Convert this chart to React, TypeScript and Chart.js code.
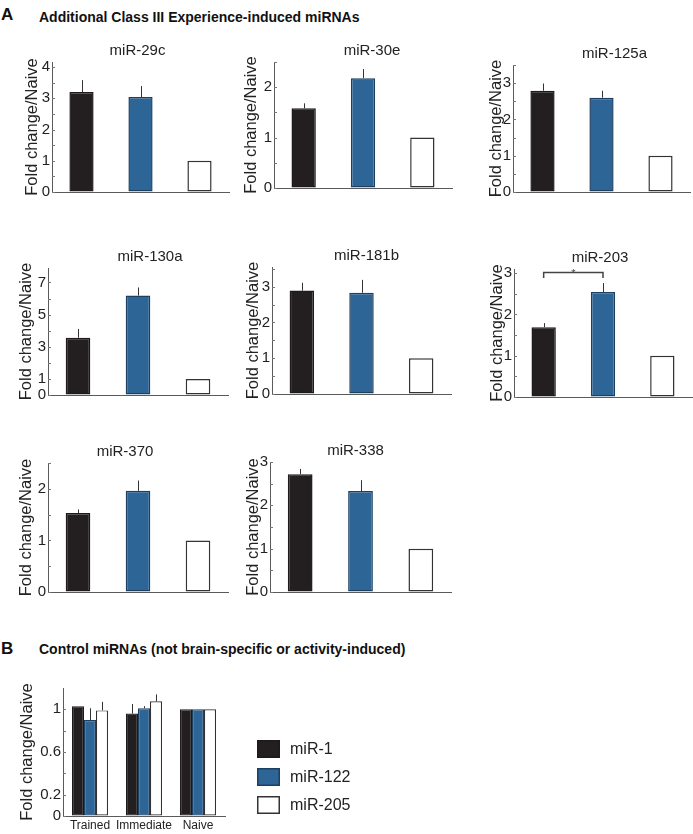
import React, { useEffect, useRef } from 'react';
import { Chart, registerables } from 'chart.js';

Chart.register(...registerables);

const FONT = '"Liberation Sans", Arial, Helvetica, sans-serif';

// ---------- Panel A data ----------
const groupLabels = ['Trained', 'Immediate', 'Naive'];
const mirNames = ['miR-29c', 'miR-30e', 'miR-125a', 'miR-130a', 'miR-181b', 'miR-203', 'miR-370', 'miR-338'];
const trainedValues = [3.2, 1.58, 2.79, 3.56, 2.89, 1.69, 1.53, 2.72];
const trainedErrors = [0.38, 0.1, 0.2, 0.55, 0.22, 0.1, 0.07, 0.12];
const immediateValues = [3.04, 2.18, 2.6, 6.19, 2.83, 2.54, 1.96, 2.33];
const immediateErrors = [0.35, 0.18, 0.19, 0.5, 0.36, 0.22, 0.2, 0.25];
const naiveValues = [1, 1, 1, 1, 1, 1, 1, 1];
const naiveErrors = [0, 0, 0, 0, 0, 0, 0, 0];
const yMaxValues = [4.16, 2.5, 3.5, 7.9, 3.55, 3.1, 2.5, 3.0];
const yTickLabels = [[0, 1, 2, 3, 4], [0, 1, 2], [0, 1, 2, 3], [0, 1, 3, 5, 7], [0, 1, 2, 3], [0, 1, 2, 3], [0, 1, 2], [0, 1, 2, 3]];
const yMinorSteps = [0.5, 0.5, 0.5, 1, 0.5, 0.5, 0.5, 0.5];
// significance bracket: [bar a, bar b, level, drop level]
const significance: (number[] | null)[] = [null, null, null, null, null, [0, 1, 3.03, 2.88], null, null];

// ---------- Panel B data ----------
const controlGroups = ['Trained', 'Immediate', 'Naive'];
const controlSeries = ['miR-1', 'miR-122', 'miR-205'];
const mir1Values = [1.03, 0.96, 1.0];
const mir1Errors = [0, 0.09, 0];
const mir122Values = [0.9, 1.01, 1.0];
const mir122Errors = [0.11, 0.02, 0];
const mir205Values = [0.99, 1.075, 1.0];
const mir205Errors = [0.08, 0.065, 0];
const controlMax = 1.2;
const controlTickLabels = [0, 0.2, 0.6, 1];
const controlMinorStep = 0.2;

// ---------- styles ----------
const barColors = ['#231f20', '#2e6597', '#ffffff'];
const barBorders = ['#1e1a1b', '#1d3f60', '#333333'];
const TEXT = '#222';
const AXIS = '#5a5a5a';

// chart-area boxes (page pixels) + label offset + title dx
const panelBoxes = [
  { l: 52, t: 62, r: 229, b: 192, lab: 20, tdx: -3 },
  { l: 274, t: 62, r: 452, b: 188, lab: 23, tdx: 9 },
  { l: 513, t: 65, r: 690, b: 192, lab: 17, tdx: 13 },
  { l: 48, t: 268, r: 228, b: 395, lab: 22, tdx: 12 },
  { l: 272, t: 267, r: 451, b: 394, lab: 19, tdx: 5 },
  { l: 514, t: 269, r: 692, b: 397, lab: 17, tdx: -3 },
  { l: 48, t: 463, r: 228, b: 592, lab: 22, tdx: -13 },
  { l: 270, t: 462, r: 451, b: 592, lab: 17, tdx: -5 },
];

function buildTicks(max: number, step: number) {
  const out: { value: number }[] = [];
  for (let i = 0; i * step <= max + 1e-9; i++) out.push({ value: Math.round(i * step * 1000) / 1000 });
  return out;
}

function MiniChart({ k }: { k: number }) {
  const ref = useRef<HTMLCanvasElement>(null);
  const box = panelBoxes[k];
  const PL = 55, PT = 28, PR = 4, PB = 14;
  const W = box.r - box.l + PL + PR;
  const H = box.b - box.t + PT + PB;
  useEffect(() => {
    const values = [trainedValues[k], immediateValues[k], naiveValues[k]];
    const errors = [trainedErrors[k], immediateErrors[k], naiveErrors[k]];
    const yw = box.lab + 9.9;
    const labels = yTickLabels[k];
    const sig = significance[k];
    const plugin = {
      id: 'annot' + k,
      afterDatasetsDraw(chart: any) {
        const ctx = chart.ctx;
        const ys = chart.scales.y;
        const ca = chart.chartArea;
        const meta = chart.getDatasetMeta(0);
        ctx.save();
        // error bars
        ctx.strokeStyle = '#333';
        ctx.lineWidth = 1;
        meta.data.forEach((bar: any, j: number) => {
          const e = errors[j];
          if (!e) return;
          const x = Math.round(bar.x) + 0.5;
          ctx.beginPath();
          ctx.moveTo(x, bar.y);
          ctx.lineTo(x, ys.getPixelForValue(values[j] + e));
          ctx.stroke();
        });
        // inner tick marks
        ctx.strokeStyle = '#777';
        ys.ticks.forEach((t: any) => {
          const y = Math.round(ys.getPixelForValue(t.value)) + 0.5;
          ctx.beginPath();
          ctx.moveTo(ca.left, y);
          ctx.lineTo(ca.left + 3, y);
          ctx.stroke();
        });
        // title
        ctx.fillStyle = TEXT;
        ctx.font = `15px ${FONT}`;
        ctx.textAlign = 'center';
        ctx.textBaseline = 'middle';
        ctx.fillText(mirNames[k], (ca.left + ca.right) / 2 + box.tdx, ca.top - 11);
        // significance bracket
        if (sig) {
          const x1 = meta.data[sig[0]].x;
          const x2 = meta.data[sig[1]].x;
          const y1 = Math.round(ys.getPixelForValue(sig[2])) + 0.5;
          const y2 = ys.getPixelForValue(sig[3]);
          ctx.strokeStyle = '#444';
          ctx.lineWidth = 1.5;
          ctx.beginPath();
          ctx.moveTo(x1, y2);
          ctx.lineTo(x1, y1);
          ctx.lineTo(x2, y1);
          ctx.lineTo(x2, y2);
          ctx.stroke();
          ctx.font = `11px ${FONT}`;
          ctx.fillStyle = '#444';
          ctx.textBaseline = 'alphabetic';
          ctx.fillText('*', (x1 + x2) / 2, y1 + 4);
        }
        ctx.restore();
      },
    };
    const chart = new Chart(ref.current!, {
      type: 'bar',
      data: {
        labels: groupLabels,
        datasets: [
          {
            data: values,
            backgroundColor: barColors,
            borderColor: barBorders,
            borderWidth: 1.5,
            borderSkipped: false,
            barPercentage: 0.41,
            categoryPercentage: 1,
          },
        ],
      },
      options: {
        responsive: false,
        animation: false,
        layout: { padding: { left: PL - yw, top: PT, right: PR, bottom: PB } },
        plugins: { legend: { display: false }, tooltip: { enabled: false }, title: { display: false } },
        scales: {
          x: {
            type: 'category',
            offset: true,
            ticks: { display: false },
            grid: { display: true, drawOnChartArea: false, drawTicks: false },
            border: { color: AXIS, width: 1 },
            afterFit: (s: any) => { s.height = 0; },
          },
          y: {
            min: 0,
            max: yMaxValues[k],
            afterBuildTicks: (s: any) => { s.ticks = buildTicks(yMaxValues[k], yMinorSteps[k]); },
            ticks: {
              color: TEXT,
              padding: 2,
              autoSkip: false,
              font: { family: FONT, size: 15 },
              callback: (v: any) => (labels.includes(Number(v)) ? String(v) : ''),
            },
            grid: { display: true, drawOnChartArea: false, drawTicks: false },
            border: { color: AXIS, width: 1 },
            title: { display: true, text: 'Fold change/Naive', color: TEXT, padding: 0, font: { family: FONT, size: 16.5 } },
            afterFit: (s: any) => { s.width = yw; },
          },
        },
      },
      plugins: [plugin],
    } as any);
    return () => chart.destroy();
  }, []);
  return (
    <canvas
      ref={ref}
      width={W}
      height={H}
      style={{ position: 'absolute', left: box.l - PL, top: box.t - PT, width: W, height: H, display: 'block' }}
    />
  );
}

function ControlChart() {
  const ref = useRef<HTMLCanvasElement>(null);
  const L = 0, T = 660, W = 380, H = 174;
  const area = { l: 63, t: 688, r: 225, b: 816 };
  const yw = 36 + 9.9;
  useEffect(() => {
    const seriesValues = [mir1Values, mir122Values, mir205Values];
    const seriesErrors = [mir1Errors, mir122Errors, mir205Errors];
    const plugin = {
      id: 'controlAnnot',
      afterDatasetsDraw(chart: any) {
        const ctx = chart.ctx;
        const ys = chart.scales.y;
        const ca = chart.chartArea;
        ctx.save();
        ctx.strokeStyle = '#333';
        ctx.lineWidth = 1;
        seriesValues.forEach((vals, i) => {
          const meta = chart.getDatasetMeta(i);
          meta.data.forEach((bar: any, j: number) => {
            const e = seriesErrors[i][j];
            if (!e) return;
            const x = Math.round(bar.x) + 0.5;
            ctx.beginPath();
            ctx.moveTo(x, bar.y);
            ctx.lineTo(x, ys.getPixelForValue(vals[j] + e));
            ctx.stroke();
          });
        });
        ctx.strokeStyle = '#777';
        ys.ticks.forEach((t: any) => {
          const y = Math.round(ys.getPixelForValue(t.value)) + 0.5;
          ctx.beginPath();
          ctx.moveTo(ca.left, y);
          ctx.lineTo(ca.left + 3, y);
          ctx.stroke();
        });
        // legend
        ctx.font = `16px ${FONT}`;
        ctx.textAlign = 'left';
        ctx.textBaseline = 'middle';
        controlSeries.forEach((name, i) => {
          const bx = ca.right + 32;
          const by = ca.top + 52 + i * 28;
          ctx.fillStyle = barColors[i];
          ctx.fillRect(bx, by, 23, 18);
          ctx.strokeStyle = barBorders[i];
          ctx.lineWidth = 1.5;
          ctx.strokeRect(bx + 0.75, by + 0.75, 21.5, 16.5);
          ctx.fillStyle = TEXT;
          ctx.fillText(name, bx + 33, by + 9.5);
        });
        ctx.restore();
      },
    };
    const chart = new Chart(ref.current!, {
      type: 'bar',
      data: {
        labels: controlGroups,
        datasets: controlSeries.map((name, i) => ({
          label: name,
          data: seriesValues[i],
          backgroundColor: barColors[i],
          borderColor: barBorders[i],
          borderWidth: 1.2,
          borderSkipped: false,
          barPercentage: 1,
          categoryPercentage: 0.667,
        })),
      },
      options: {
        responsive: false,
        animation: false,
        layout: { padding: { left: area.l - L - yw, top: area.t - T, right: L + W - area.r, bottom: 0 } },
        plugins: { legend: { display: false }, tooltip: { enabled: false }, title: { display: false } },
        scales: {
          x: {
            type: 'category',
            offset: true,
            ticks: { color: TEXT, padding: 2, maxRotation: 0, autoSkip: false, font: { family: FONT, size: 12 } },
            grid: { display: true, drawOnChartArea: false, drawTicks: false },
            border: { color: AXIS, width: 1 },
            afterFit: (s: any) => { s.height = T + H - area.b; },
          },
          y: {
            min: 0,
            max: controlMax,
            afterBuildTicks: (s: any) => { s.ticks = buildTicks(1.0, controlMinorStep); },
            ticks: {
              color: TEXT,
              padding: 2,
              autoSkip: false,
              font: { family: FONT, size: 15 },
              callback: (v: any) => (controlTickLabels.includes(Number(v)) ? String(v) : ''),
            },
            grid: { display: true, drawOnChartArea: false, drawTicks: false },
            border: { color: AXIS, width: 1 },
            title: { display: true, text: 'Fold change/Naive', color: TEXT, padding: 0, font: { family: FONT, size: 16.5 } },
            afterFit: (s: any) => { s.width = yw; },
          },
        },
      },
      plugins: [plugin],
    } as any);
    return () => chart.destroy();
  }, []);
  return (
    <canvas
      ref={ref}
      width={W}
      height={H}
      style={{ position: 'absolute', left: L, top: T, width: W, height: H, display: 'block' }}
    />
  );
}

const headStyle: React.CSSProperties = {
  position: 'absolute',
  fontFamily: FONT,
  fontWeight: 'bold',
  color: '#111',
  whiteSpace: 'nowrap',
};

export default function App() {
  return (
    <div
      style={{
        position: 'fixed',
        left: 0,
        top: 0,
        width: 693,
        height: 834,
        background: '#fff',
        overflow: 'hidden',
      }}
    >
      <div style={{ ...headStyle, left: 1, top: 6, fontSize: 17, lineHeight: '17px' }}>A</div>
      <div style={{ ...headStyle, left: 39, top: 10, fontSize: 14, lineHeight: '14px' }}>
        Additional Class III Experience-induced miRNAs
      </div>
      <div style={{ ...headStyle, left: 1, top: 640, fontSize: 17, lineHeight: '17px' }}>B</div>
      <div style={{ ...headStyle, left: 39, top: 642, fontSize: 14, lineHeight: '14px' }}>
        Control miRNAs (not brain-specific or activity-induced)
      </div>
      {mirNames.map((_, k) => (
        <MiniChart key={k} k={k} />
      ))}
      <ControlChart />
    </div>
  );
}
